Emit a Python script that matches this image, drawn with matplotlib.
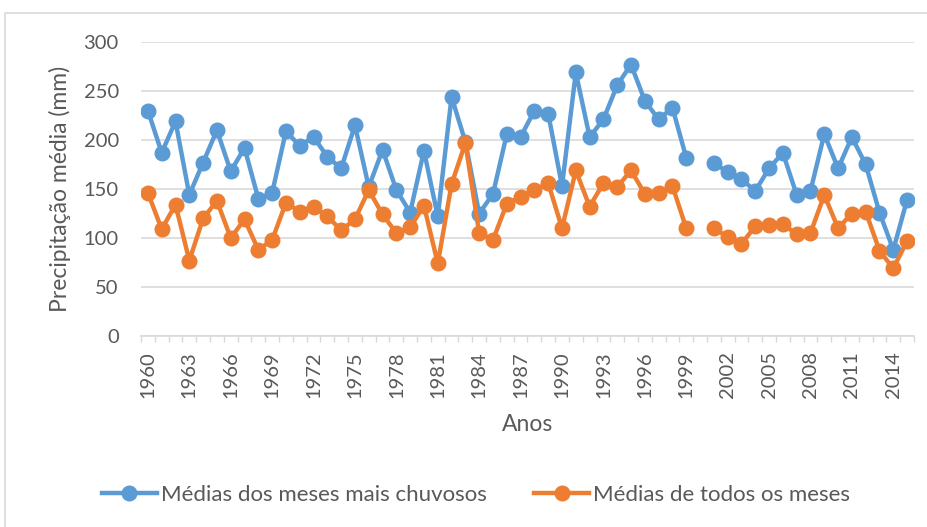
import numpy as np
import matplotlib
matplotlib.use("Agg")
import matplotlib.pyplot as plt
from matplotlib.patches import Rectangle

# Anos e valores (2000 sem dados)
anos = list(range(1960, 2016))

chuvosos = [230, 187, 219, 144, 177, 210, 168, 192, 140, 146,
            209, 194, 203, 183, 171, 215, 152, 190, 149, 126,
            189, 122, 244, 198, 125, 145, 206, 203, 230, 227,
            153, 269, 203, 221, 256, 277, 240, 221, 233, 182,
            None, 177, 167, 160, 148, 171, 187, 144, 148, 206,
            171, 203, 175, 126, 88, 139]

todos = [146, 109, 134, 77, 120, 138, 100, 119, 88, 98,
         136, 127, 132, 122, 108, 119, 149, 124, 105, 111,
         133, 74, 155, 197, 105, 98, 135, 142, 149, 156,
         110, 169, 132, 156, 152, 169, 145, 146, 153, 110,
         None, 110, 101, 94, 112, 113, 114, 104, 105, 144,
         110, 125, 127, 87, 69, 97]

rotulo_serie1 = "Médias dos meses mais chuvosos"
rotulo_serie2 = "Médias de todos os meses"

azul = "#5B9BD5"
laranja = "#ED7D31"
cinza_texto = "#595959"
cinza_grade = "#D9D9D9"

plt.rcParams['font.family'] = ['Lato', 'DejaVu Sans']

fig = plt.figure(figsize=(9.28, 5.27), dpi=100)
ax = fig.add_axes([141 / 928, 1 - 336 / 527, (914 - 141) / 928, (336 - 42) / 527])

x = np.arange(len(anos))
y1 = np.array([np.nan if v is None else v for v in chuvosos], dtype=float)
y2 = np.array([np.nan if v is None else v for v in todos], dtype=float)

ax.plot(x, y1, color=azul, lw=3.2, marker='o', ms=10.5, label=rotulo_serie1, zorder=3)
ax.plot(x, y2, color=laranja, lw=3.2, marker='o', ms=10.5, label=rotulo_serie2, zorder=4)

ax.set_xlim(-0.5, len(anos) - 0.5)
ax.set_ylim(0, 300)
ax.set_yticks(range(0, 301, 50))
ax.yaxis.grid(True, color=cinza_grade, lw=1.2)
ax.set_axisbelow(True)

ax.set_xticks(x[::3])
ax.set_xticklabels([str(a) for a in anos[::3]], rotation=90)
ax.set_xticks(np.arange(-0.5, len(anos), 1), minor=True)
ax.tick_params(axis='x', which='major', length=0, pad=11, labelsize=14.5, labelcolor=cinza_texto)
ax.tick_params(axis='x', which='minor', length=4, color=cinza_grade, width=1)
ax.tick_params(axis='y', length=0, pad=16, labelsize=14.5, labelcolor=cinza_texto)

for lado in ['top', 'right', 'left']:
    ax.spines[lado].set_visible(False)
ax.spines['bottom'].set_color(cinza_grade)
ax.spines['bottom'].set_linewidth(1.2)

ax.set_ylabel("Precipitação média (mm)", fontsize=16.5, color=cinza_texto, labelpad=9)
ax.set_xlabel("Anos", fontsize=16.5, color=cinza_texto, labelpad=11)

fig.legend(loc='center', bbox_to_anchor=(476 / 928, 1 - 495 / 527), ncol=2,
           frameon=False, fontsize=16, labelcolor=cinza_texto,
           handlelength=2.5, handletextpad=0.18, columnspacing=2.1)

# moldura da área do gráfico
fig.patches.append(Rectangle((5 / 928, -0.1), 1.2, 1 - 13 / 527 + 0.1,
                             transform=fig.transFigure, fill=False,
                             edgecolor=cinza_grade, lw=1.2))

fig.savefig("out.png", dpi=100)
